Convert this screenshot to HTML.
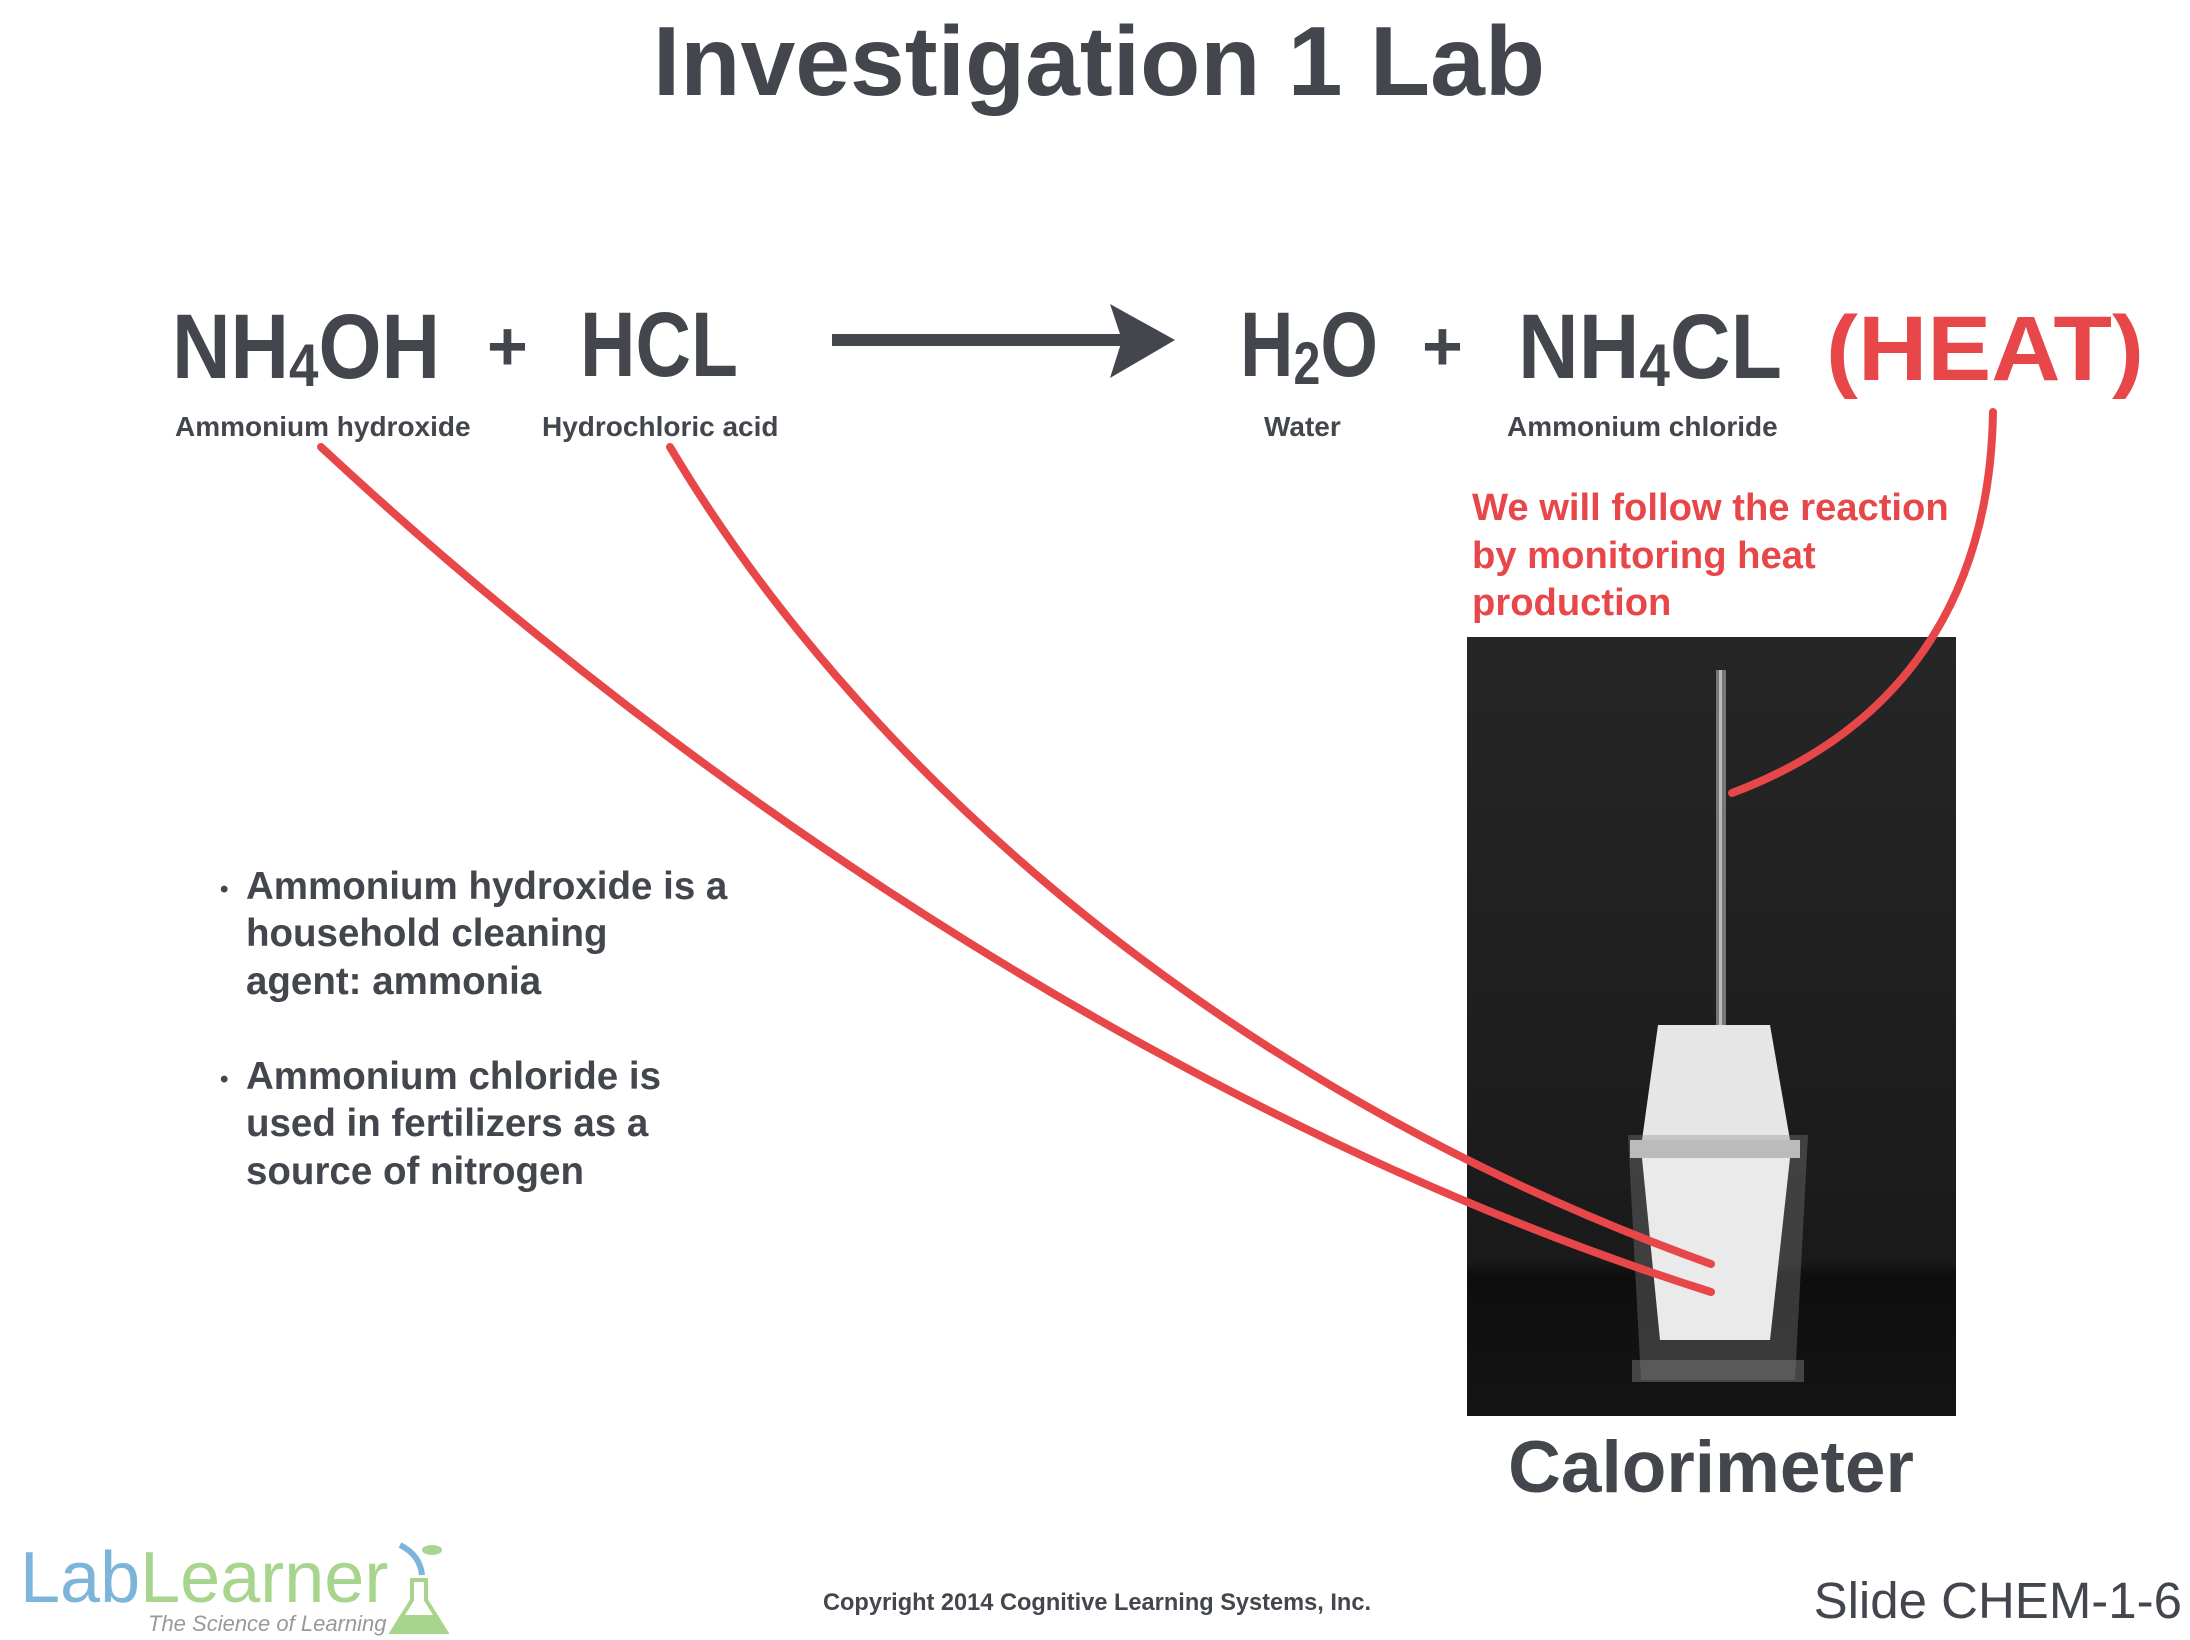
<!DOCTYPE html>
<html><head><meta charset="utf-8"><style>
html,body{margin:0;padding:0;background:#fff;}
svg{display:block;}
</style></head><body>
<svg width="2190" height="1640" viewBox="0 0 2190 1640" xmlns="http://www.w3.org/2000/svg">
<defs>
<linearGradient id="bg" x1="0" y1="0" x2="0" y2="1">
<stop offset="0" stop-color="#262626"/><stop offset="0.8" stop-color="#1a1a1a"/><stop offset="0.82" stop-color="#0e0e0e"/><stop offset="1" stop-color="#141414"/>
</linearGradient>
</defs>
<text x="1099" y="95" text-anchor="middle" font-family="Liberation Sans, sans-serif" font-weight="bold" font-size="98.5" fill="#43474d">Investigation 1 Lab</text>

<g font-family="Liberation Sans Narrow, Liberation Sans, sans-serif" font-weight="bold" fill="#43474d" font-size="92">
<text x="172" y="378" textLength="268" lengthAdjust="spacingAndGlyphs">NH<tspan font-size="60" dy="8">4</tspan><tspan dy="-8">OH</tspan></text>
<text x="487" y="370" font-size="70">+</text>
<text x="580" y="376" textLength="158" lengthAdjust="spacingAndGlyphs">HCL</text>
<text x="1240" y="376" textLength="138" lengthAdjust="spacingAndGlyphs">H<tspan font-size="60" dy="8">2</tspan><tspan dy="-8">O</tspan></text>
<text x="1422" y="370" font-size="70">+</text>
<text x="1518" y="378" textLength="264" lengthAdjust="spacingAndGlyphs">NH<tspan font-size="60" dy="8">4</tspan><tspan dy="-8">CL</tspan></text>
<text x="1826" y="380" fill="#e8474a" textLength="318" lengthAdjust="spacingAndGlyphs">(HEAT)</text>
</g>
<rect x="832" y="334" width="290" height="12" fill="#43474d"/>
<polygon points="1110,304 1175,340 1110,378 1122,340" fill="#43474d"/>

<g font-family="Liberation Sans, sans-serif" font-weight="bold" font-size="28" fill="#43474d">
<text x="175" y="436">Ammonium hydroxide</text>
<text x="542" y="436">Hydrochloric acid</text>
<text x="1264" y="436">Water</text>
<text x="1507" y="436">Ammonium chloride</text>
</g>

<g font-family="Liberation Sans, sans-serif" font-weight="bold" font-size="38.2" fill="#e8474a">
<text x="1472" y="520">We will follow the reaction</text>
<text x="1472" y="568">by monitoring heat</text>
<text x="1472" y="615">production</text>
</g>

<g font-family="Liberation Sans, sans-serif" font-weight="bold" font-size="38.5" fill="#43474d">
<text x="220" y="897" font-size="24">•</text>
<text x="246" y="899">Ammonium hydroxide is a</text>
<text x="246" y="946">household cleaning</text>
<text x="246" y="994">agent: ammonia</text>
<text x="220" y="1087" font-size="24">•</text>
<text x="246" y="1089">Ammonium chloride is</text>
<text x="246" y="1136">used in fertilizers as a</text>
<text x="246" y="1184">source of nitrogen</text>
</g>

<!-- photo -->
<rect x="1467" y="637" width="489" height="779" fill="url(#bg)"/>
<rect x="1716" y="670" width="10" height="360" fill="#777"/>
<rect x="1719" y="670" width="3" height="360" fill="#bbb"/>
<polygon points="1658,1025 1770,1025 1790,1140 1642,1140" fill="#e6e6e6"/>
<rect x="1630" y="1140" width="170" height="18" fill="#d8d8d8"/>
<polygon points="1628,1135 1808,1135 1795,1380 1641,1380" fill="#888" opacity="0.35"/>
<polygon points="1642,1158 1790,1158 1770,1340 1660,1340" fill="#eaeaea"/>
<rect x="1632" y="1360" width="172" height="22" fill="#777" opacity="0.5"/>

<g fill="none" stroke="#e8474a" stroke-width="8" stroke-linecap="round">
<path d="M321 447 C 700 800, 1200 1130, 1711 1292"/>
<path d="M670 447 C 850 750, 1200 1080, 1711 1264"/>
<path d="M1993 412 C 1990 600, 1900 730, 1732 793"/>
</g>

<text x="1711" y="1492" text-anchor="middle" font-family="Liberation Sans, sans-serif" font-weight="bold" font-size="73" fill="#43474d">Calorimeter</text>

<text x="20" y="1602" font-family="Liberation Sans, sans-serif" font-size="72" fill="#7db5da">Lab<tspan fill="#a8d58e">Learner</tspan></text>
<text x="148" y="1631" font-family="Liberation Sans, sans-serif" font-style="italic" font-size="22" fill="#999">The Science of Learning</text>
<polygon points="412,1580 426,1580 426,1600 446,1632 392,1632 412,1600" fill="none" stroke="#a8d58e" stroke-width="4"/>
<polygon points="400,1615 438,1615 446,1632 392,1632" fill="#a8d58e"/>
<path d="M400 1545 Q420 1555 422 1575" stroke="#7db5da" stroke-width="6" fill="none"/>
<ellipse cx="432" cy="1550" rx="10" ry="5" fill="#a8d58e"/>

<text x="1097" y="1610" text-anchor="middle" font-family="Liberation Sans, sans-serif" font-weight="bold" font-size="23.6" fill="#43474d">Copyright 2014 Cognitive Learning Systems, Inc.</text>
<text x="2182" y="1618" text-anchor="end" font-family="Liberation Sans, sans-serif" font-size="51" fill="#43474d">Slide CHEM-1-6</text>
</svg>
</body></html>
